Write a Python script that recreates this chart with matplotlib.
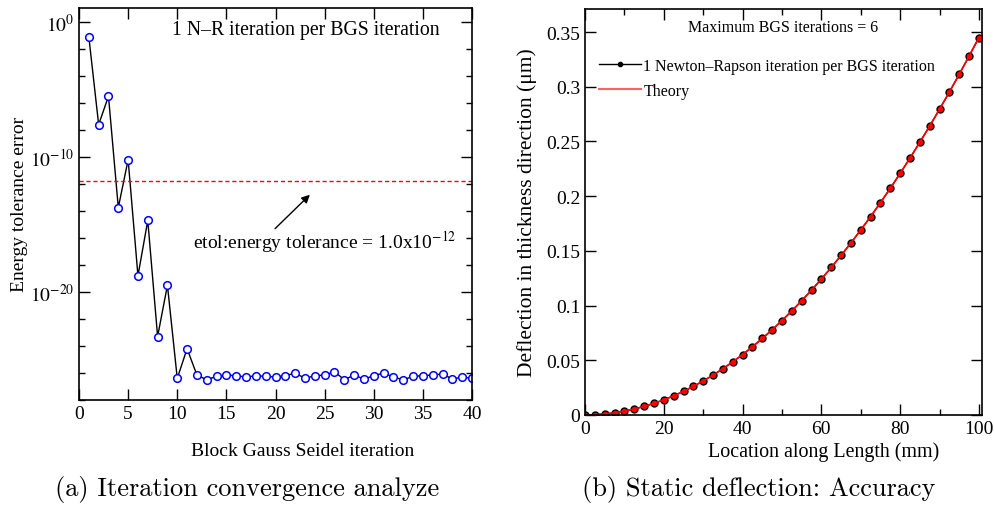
import numpy as np
import matplotlib
matplotlib.use("Agg")
import matplotlib.pyplot as plt
from matplotlib.lines import Line2D
from matplotlib.ticker import NullFormatter, FixedLocator

plt.rcParams['font.family'] = ['Liberation Serif', 'DejaVu Serif']
plt.rcParams['mathtext.fontset'] = 'stix'

# (a) convergence: BGS iteration vs energy tolerance error (log10 exponents)
bgs_iter = list(range(1, 41))
err_exp = [-1.1, -7.6, -5.5, -13.75, -10.2, -18.8, -14.7, -23.3, -19.5, -26.4,
           -24.2, -26.15, -26.5, -26.25, -26.15, -26.2, -26.3, -26.2, -26.25, -26.3,
           -26.2, -26.0, -26.4, -26.2, -26.15, -25.9, -26.5, -26.15, -26.45, -26.2,
           -26.0, -26.3, -26.5, -26.25, -26.2, -26.15, -26.07, -26.45, -26.3, -26.4]
etol_line = 10 ** -11.8

# (b) static deflection along length
location = [0, 2.5, 5, 7.5, 10, 12.5, 15, 17.5, 20, 22.5, 25, 27.5, 30, 32.5, 35, 37.5,
            40, 42.5, 45, 47.5, 50, 52.5, 55, 57.5, 60, 62.5, 65, 67.5, 70, 72.5, 75,
            77.5, 80, 82.5, 85, 87.5, 90, 92.5, 95, 97.5, 100]
deflection = [0.0, 0.0002, 0.0009, 0.0019, 0.0035, 0.0054, 0.0078, 0.0106, 0.0138,
              0.0175, 0.0216, 0.0261, 0.0311, 0.0364, 0.0423, 0.0485, 0.0552, 0.0623,
              0.0699, 0.0778, 0.0863, 0.0951, 0.1044, 0.1141, 0.1242, 0.1348, 0.1458,
              0.1572, 0.1691, 0.1813, 0.1941, 0.2072, 0.2208, 0.2348, 0.2493, 0.2641,
              0.2795, 0.2952, 0.3114, 0.3280, 0.3450]
theory = deflection

fig = plt.figure(figsize=(9.95, 5.06), dpi=100)

# ---- left panel ----
ax1 = fig.add_axes([0.0794, 0.2075, 0.395, 0.775])
ax1.set_yscale('log')
ax1.plot(bgs_iter, [10.0 ** e for e in err_exp], color='black', lw=1,
         marker='o', ms=5.5, mfc='white', mec='blue', mew=1.1)
ax1.axhline(etol_line, color='red', lw=1, ls=(0, (3, 2)))
ax1.set_xlim(0, 40)
ax1.set_ylim(1e-28, 10 ** 1.05)
ax1.set_xticks(range(0, 41, 5))
ax1.yaxis.set_major_locator(FixedLocator([1e0, 1e-10, 1e-20]))
ax1.yaxis.set_minor_locator(FixedLocator([10.0 ** -k for k in range(0, 30, 2)]))
ax1.yaxis.set_minor_formatter(NullFormatter())
ax1.set_yticklabels([r'$10^{0}$', r'$10^{-10}$', r'$10^{-20}$'])
ax1.text(0.918, 0.945, '1 N\u2013R iteration per BGS iteration', transform=ax1.transAxes,
         ha='right', va='center', fontsize=14.2)
ax1.annotate('', xy=(23.7, 10 ** -12.65), xytext=(19.75, 10 ** -15.45),
             arrowprops=dict(arrowstyle='-|>', color='black', lw=1, mutation_scale=12))
ax1.text(25.0, 10 ** -16.2, r'etol:energy tolerance = 1.0x10$^{-12}$', ha='center',
         va='center', fontsize=14)
ax1.set_ylabel('Energy tolerance error', fontsize=14)
ax1.yaxis.set_label_coords(-0.13, 0.5)
ax1.set_xlabel('Block Gauss Seidel iteration', fontsize=14)
ax1.xaxis.set_label_coords(0.57, -0.107)

# ---- right panel ----
ax2 = fig.add_axes([0.588, 0.178, 0.399, 0.802])
ax2.plot(location, deflection, color='black', lw=1, marker='o', ms=5,
         mfc='red', mec='black', mew=1)
ax2.plot(location, theory, color='red', lw=1.2)
ax2.set_xlim(0, 100.8)
ax2.set_ylim(0, 0.371)
ax2.set_xticks(range(0, 101, 20))
ax2.set_xticks(range(0, 101, 10), minor=True)
ax2.set_yticks(np.arange(0, 0.36, 0.05))
ax2.set_yticklabels(['0', '0.05', '0.1', '0.15', '0.2', '0.25', '0.3', '0.35'])
ax2.set_ylabel('Deflection in thickness direction (\u03bcm)', fontsize=15.5)
ax2.yaxis.set_label_coords(-0.121, 0.5)
ax2.set_xlabel('Location along Length (mm)', fontsize=14.4)
ax2.xaxis.set_label_coords(0.6, -0.065)
handles = [Line2D([], [], color='black', lw=1, marker='o', ms=3),
           Line2D([], [], color='#ff6060', lw=1.5)]
leg = ax2.legend(handles, ['1 Newton\u2013Rapson iteration per BGS iteration', 'Theory'],
                 loc='upper left', bbox_to_anchor=(0.0, 0.915), frameon=False,
                 fontsize=11.5, handlelength=2.6, handletextpad=0.15, labelspacing=0.55)
ax2.text(0.5, 0.955, 'Maximum BGS iterations = 6', transform=ax2.transAxes,
         ha='center', va='center', fontsize=11.5)

for ax in (ax1, ax2):
    ax.tick_params(which='both', direction='in', top=True, right=True, labelsize=14)
    ax.tick_params(which='major', length=8, width=1)
    ax.tick_params(which='minor', length=4, width=1)
    for s in ax.spines.values():
        s.set_linewidth(1.2)

fig.text(0.248, 0.032, '(a) Iteration convergence analyze', ha='center', va='center',
         fontsize=19, family='cmr10')
fig.text(0.762, 0.032, '(b) Static deflection: Accuracy', ha='center', va='center',
         fontsize=19, family='cmr10')

fig.savefig('out.png', dpi=100)
